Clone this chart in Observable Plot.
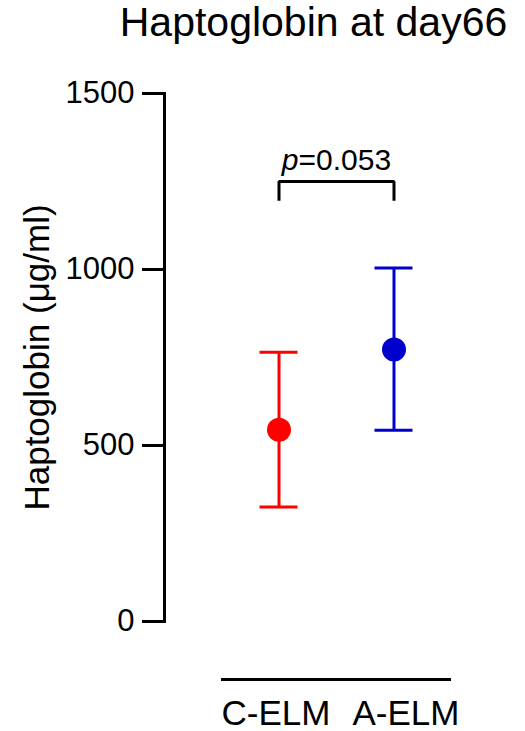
<!DOCTYPE html>
<html>
<head>
<meta charset="utf-8">
<script src="https://cdn.jsdelivr.net/npm/d3@7"></script>
<script src="https://cdn.jsdelivr.net/npm/@observablehq/plot@0.6"></script>
<style>
  body { margin: 0; background: #fff; font-family: "Liberation Sans", Arial, sans-serif; }
  #title { margin-left: 102px; width: 423px; height: 50px; line-height: 45px; text-align: center; font-size: 41px; color: #000; white-space: nowrap; }
</style>
</head>
<body>
<div id="title">Haptoglobin at day66</div>
<div id="chart"></div>
<script>
// ---- data ----
const groups = ["C-ELM", "A-ELM"];
const means = [545, 773];
const upper = [765, 1004];
const lower = [325, 543];
const colors = ["#FF0000", "#0000CC"];
const yTicks = [0, 500, 1000, 1500];
const yLabel = "Haptoglobin (μg/ml)";
const bracketTop = 1250;
const bracketFoot = 1195;
const pLabel = "p=0.053";

// ---- tables ----
const rows = groups.map((g, i) => ({group: g, mean: means[i], upper: upper[i], lower: lower[i]}));
const bracket = [
  {g: groups[0], v: bracketFoot},
  {g: groups[0], v: bracketTop},
  {g: groups[1], v: bracketTop},
  {g: groups[1], v: bracketFoot}
];
const baseLine = [{a: groups[0], b: groups[groups.length - 1], y: yTicks[0]}];
const pRow = [{g: groups[0], v: bracketTop, t: pLabel}];

const plot = Plot.plot({
  width: 525,
  height: 681,
  marginLeft: 164,
  marginRight: 62,
  marginTop: 43,
  marginBottom: 110,
  style: {fontFamily: "'Liberation Sans', Arial, sans-serif", fontSize: "31px", background: "#fff", color: "#000"},
  x: {type: "band", domain: groups, paddingInner: 0, paddingOuter: 0.3, align: 0.833, axis: null},
  y: {domain: [0, 1500], axis: null},
  color: {domain: groups, range: colors},
  marks: [
    Plot.frame({anchor: "left", strokeWidth: 3}),
    Plot.axisY(yTicks, {tickSize: 22, tickPadding: 8, strokeWidth: 3, fontSize: 31, tickFormat: "d", label: null}),
    Plot.axisY(yTicks, {tickSize: 0, text: null, fontSize: 35,
      label: yLabel, labelAnchor: "center", labelArrow: "none", labelOffset: 140}),
    Plot.axisX([groups[0]], {tickSize: 0, tickPadding: 79, fontSize: 35, dx: -3, label: null}),
    Plot.axisX([groups[1]], {tickSize: 0, tickPadding: 79, fontSize: 35, dx: 12, label: null}),
    Plot.ruleY(baseLine, {x1: "a", x2: "b", y: "y", dy: 58, strokeWidth: 3}),
    Plot.ruleX(rows, {x: "group", y1: "lower", y2: "upper", stroke: "group", strokeWidth: 3}),
    Plot.tickY(rows, {x: "group", y: "upper", stroke: "group", strokeWidth: 3, insetLeft: 38.5, insetRight: 38.5}),
    Plot.tickY(rows, {x: "group", y: "lower", stroke: "group", strokeWidth: 3, insetLeft: 38.5, insetRight: 38.5}),
    Plot.dot(rows, {x: "group", y: "mean", fill: "group", r: 12}),
    Plot.line(bracket, {x: "g", y: "v", stroke: "#000", strokeWidth: 3, strokeLinejoin: "miter", strokeLinecap: "butt"}),
    Plot.text(pRow, {x: "g", y: "v", text: "t", dx: 57.5, dy: -12, lineAnchor: "bottom", fontSize: 30, fill: "#000"})
  ]
});

// italic "p" in the p-value label
plot.querySelectorAll("text").forEach((t) => {
  if (t.textContent === pLabel) {
    const ns = "http://www.w3.org/2000/svg";
    t.textContent = "";
    const a = document.createElementNS(ns, "tspan");
    a.setAttribute("font-style", "italic");
    a.textContent = pLabel.slice(0, 1);
    const b = document.createElementNS(ns, "tspan");
    b.textContent = pLabel.slice(1);
    t.appendChild(a);
    t.appendChild(b);
  }
});

document.getElementById("chart").appendChild(plot);
</script>
</body>
</html>
